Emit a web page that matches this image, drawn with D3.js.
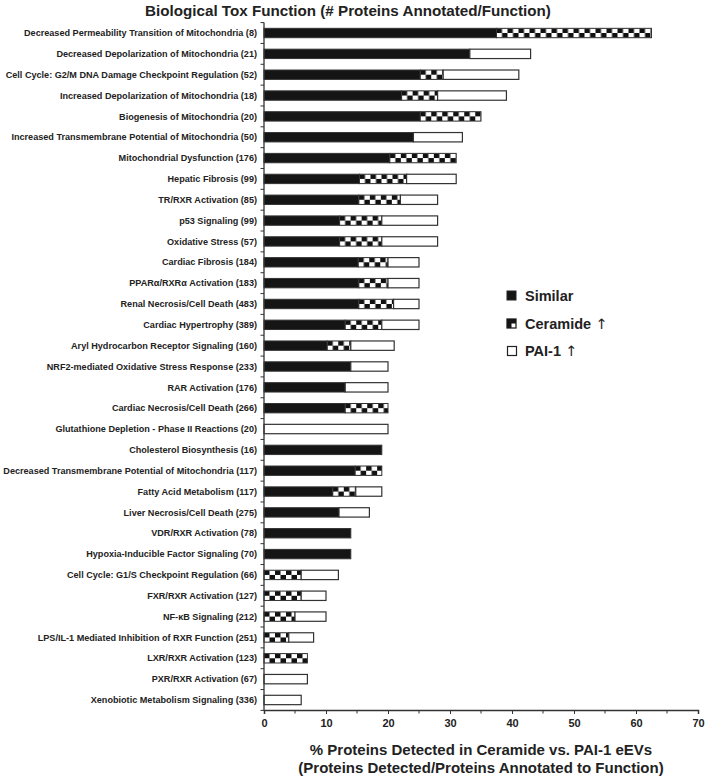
<!DOCTYPE html>
<html><head><meta charset="utf-8">
<script src="https://cdn.jsdelivr.net/npm/d3@7"></script>
<style>body{margin:0;background:#fff;} svg{display:block;} text{font-family:"Liberation Sans",Arial,sans-serif;font-weight:bold;fill:#222;}</style>
</head><body>
<svg id="chart" width="705" height="778"></svg>
<script>
const categories = [
 "Decreased Permeability Transition of Mitochondria (8)",
 "Decreased Depolarization of Mitochondria (21)",
 "Cell Cycle: G2/M DNA Damage Checkpoint Regulation (52)",
 "Increased Depolarization of Mitochondria (18)",
 "Biogenesis of Mitochondria (20)",
 "Increased Transmembrane Potential of Mitochondria (50)",
 "Mitochondrial Dysfunction (176)",
 "Hepatic Fibrosis (99)",
 "TR/RXR Activation (85)",
 "p53 Signaling (99)",
 "Oxidative Stress (57)",
 "Cardiac Fibrosis (184)",
 "PPARα/RXRα Activation (183)",
 "Renal Necrosis/Cell Death (483)",
 "Cardiac Hypertrophy (389)",
 "Aryl Hydrocarbon Receptor Signaling (160)",
 "NRF2-mediated Oxidative Stress Response (233)",
 "RAR Activation (176)",
 "Cardiac Necrosis/Cell Death (266)",
 "Glutathione Depletion - Phase II Reactions (20)",
 "Cholesterol Biosynthesis (16)",
 "Decreased Transmembrane Potential of Mitochondria (117)",
 "Fatty Acid Metabolism (117)",
 "Liver Necrosis/Cell Death (275)",
 "VDR/RXR Activation (78)",
 "Hypoxia-Inducible Factor Signaling (70)",
 "Cell Cycle: G1/S Checkpoint Regulation (66)",
 "FXR/RXR Activation (127)",
 "NF-κB Signaling (212)",
 "LPS/IL-1 Mediated Inhibition of RXR Function (251)",
 "LXR/RXR Activation (123)",
 "PXR/RXR Activation (67)",
 "Xenobiotic Metabolism Signaling (336)"
];
const similar  = [37.5,33.2,25.2,22.2,25.2,24.1,20.3,15.4,15.3,12.2,12.2,15.2,15.3,15.3,13.1,10.2,14,13.1,13.1,0,19,14.7,11.1,12.1,14,14,0,0,0,0,0,0,0];
const ceramide = [25,0,3.7,5.8,9.8,0,10.7,7.6,6.7,6.8,6.8,4.8,4.7,5.6,5.9,3.8,0,0,6.9,0,0,4.3,3.7,0,0,0,6,6,5,4,7,0,0];
const pai1     = [0,9.8,12.2,11.1,0,7.9,0,8,6,9,9,5,5,4.1,6,7,6,6.9,0,20,0,0,4.2,4.9,0,0,6,4,5,4,0,7,6];
const xTicks = [0,10,20,30,40,50,60,70];
const seriesNames = ["Similar","Ceramide","PAI-1"];

const svg = d3.select("#chart");
const x = d3.scaleLinear().domain([0,70]).range([264,698]);
const y = d3.scaleBand().domain(categories).range([22.6,710.4]).paddingInner(0.55).paddingOuter(0.275);
const defs = svg.append("defs");

const rows = categories.map((c,i)=>({c,i,s:similar[i],ce:ceramide[i],p:pai1[i]}));

rows.forEach(r=>{
  const bh = y.bandwidth();
  const pat = defs.append("pattern").attr("id","chk"+r.i).attr("patternUnits","userSpaceOnUse")
    .attr("x",x(r.s)).attr("y",y(r.c)).attr("width",11).attr("height",bh);
  pat.append("rect").attr("width",11).attr("height",bh).attr("fill","#fff");
  pat.append("rect").attr("x",0).attr("y",0).attr("width",5.5).attr("height",bh/2).attr("fill","#111");
  pat.append("rect").attr("x",5.5).attr("y",bh/2).attr("width",5.5).attr("height",bh/2).attr("fill","#111");
});

const g = svg.append("g");
rows.forEach(r=>{
  const yy = y(r.c), bh = y.bandwidth();
  if(r.s>0) g.append("rect").attr("x",x(0)).attr("y",yy).attr("width",x(r.s)-x(0)).attr("height",bh)
      .attr("fill","#151515").attr("stroke","#333").attr("stroke-width",1);
  if(r.ce>0) g.append("rect").attr("x",x(r.s)).attr("y",yy).attr("width",x(r.s+r.ce)-x(r.s)).attr("height",bh)
      .attr("fill","url(#chk"+r.i+")").attr("stroke","#333").attr("stroke-width",1);
  if(r.p>0) g.append("rect").attr("x",x(r.s+r.ce)).attr("y",yy).attr("width",x(r.s+r.ce+r.p)-x(r.s+r.ce)).attr("height",bh)
      .attr("fill","#fff").attr("stroke","#333").attr("stroke-width",1.2);
});

// y axis
svg.append("line").attr("x1",264).attr("x2",264).attr("y1",y.range()[0]).attr("y2",710).attr("stroke","#333").attr("stroke-width",1.3);
const bounds = d3.range(categories.length+1).map(i=>y.range()[0]+i*y.step());
svg.append("g").selectAll("line").data(bounds).join("line")
  .attr("x1",260.5).attr("x2",264).attr("y1",d=>d).attr("y2",d=>d).attr("stroke","#333").attr("stroke-width",1);
svg.append("g").selectAll("text").data(categories).join("text")
  .attr("x",257).attr("y",d=>y(d)+y.bandwidth()/2).attr("dy","0.35em").attr("text-anchor","end")
  .attr("font-size",9.1).text(d=>d);

// x axis
const xAxis = d3.axisBottom(x).tickValues(xTicks).tickSize(4).tickPadding(5);
const xg = svg.append("g").attr("transform","translate(0,710)").call(xAxis);
xg.select(".domain").attr("stroke","#333").attr("stroke-width",1.5);
xg.selectAll(".tick line").attr("stroke","#333");
xg.selectAll(".tick text").attr("font-size",11).attr("font-family","Liberation Sans, Arial").attr("font-weight","bold").attr("fill","#222");
const minor = d3.range(5,70,10);
svg.append("g").selectAll("line").data(minor).join("line")
  .attr("x1",d=>x(d)).attr("x2",d=>x(d)).attr("y1",710).attr("y2",713.5).attr("stroke","#333");

// titles
svg.append("text").attr("x",348).attr("y",16).attr("text-anchor","middle").attr("font-size",15.2)
  .text("Biological Tox Function (# Proteins Annotated/Function)");
svg.append("text").attr("x",481).attr("y",755).attr("text-anchor","middle").attr("font-size",15)
  .text("% Proteins Detected in Ceramide vs. PAI-1 eEVs");
svg.append("text").attr("x",481).attr("y",773).attr("text-anchor","middle").attr("font-size",15)
  .text("(Proteins Detected/Proteins Annotated to Function)");

// legend
const lg = svg.append("g");
const ly = [295.5,323.5,351];
lg.append("rect").attr("x",507).attr("y",ly[0]-4.5).attr("width",9).attr("height",9).attr("fill","#151515").attr("stroke","#222");
lg.append("rect").attr("x",507).attr("y",ly[1]-4.5).attr("width",9).attr("height",9).attr("fill","#fff").attr("stroke","#222").attr("stroke-width",1.3);
lg.append("rect").attr("x",507).attr("y",ly[1]-4.5).attr("width",4.5).attr("height",9).attr("fill","#151515");
lg.append("rect").attr("x",507).attr("y",ly[1]-4.5).attr("width",9).attr("height",4.5).attr("fill","#151515");
lg.append("rect").attr("x",507.5).attr("y",ly[2]-4.5).attr("width",9).attr("height",9).attr("fill","#fff").attr("stroke","#222").attr("stroke-width",1.2);
const labs = ["Similar","Ceramide ","PAI-1 "];
labs.forEach((t,i)=>{
  const tx = lg.append("text").attr("x",525).attr("y",ly[i]).attr("dy","0.36em").attr("font-size",14.5).text(t);
  if(i>0) tx.append("tspan").attr("font-family","DejaVu Sans").attr("font-weight","normal").attr("fill","#222").text("↑");
});
</script>
</body></html>
